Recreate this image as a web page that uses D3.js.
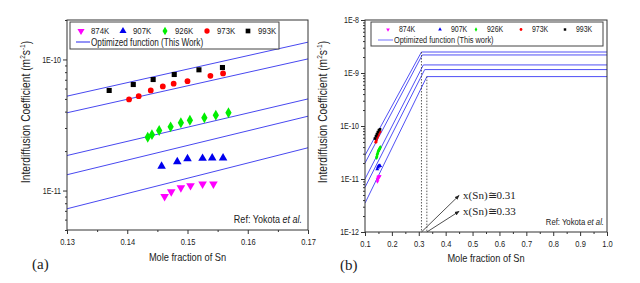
<!DOCTYPE html>
<html>
<head>
<meta charset="utf-8">
<script src="https://cdn.jsdelivr.net/npm/d3@7"></script>
<style>
  body { margin: 0; background: #fff; }
  svg { display: block; }
  text { font-family: 'Liberation Sans', Arial, sans-serif; fill: #222; }
  .serif { font-family: 'Liberation Serif', 'Times New Roman', serif; }
</style>
</head>
<body>
<svg id="fig" width="640" height="283"></svg>
<script>
// measured data, Yokota et al.
var series = ["874K", "907K", "926K", "973K", "993K"];

var x874 = [0.1462, 0.1473, 0.1489, 0.1505, 0.1525, 0.1543];
var d874 = [9.0e-12, 9.8e-12, 1.05e-11, 1.09e-11, 1.12e-11, 1.12e-11];
var x907 = [0.1457, 0.1483, 0.1500, 0.1525, 0.1541, 0.1559];
var d907 = [1.53e-11, 1.66e-11, 1.75e-11, 1.76e-11, 1.77e-11, 1.77e-11];
var x926 = [0.1434, 0.1441, 0.1453, 0.1472, 0.1489, 0.1504, 0.1528, 0.1547, 0.1568];
var d926 = [2.55e-11, 2.67e-11, 2.87e-11, 3.06e-11, 3.29e-11, 3.44e-11, 3.59e-11, 3.76e-11, 3.92e-11];
var x973 = [0.1403, 0.1419, 0.1439, 0.1459, 0.1477, 0.1500, 0.1538, 0.1559];
var d973 = [4.95e-11, 5.25e-11, 5.8e-11, 6.22e-11, 6.53e-11, 6.83e-11, 7.51e-11, 7.82e-11];
var x993 = [0.1370, 0.1410, 0.1443, 0.1478, 0.1519, 0.1558];
var d993 = [5.8e-11, 6.44e-11, 7.03e-11, 7.68e-11, 8.34e-11, 8.68e-11];

// optimized function, panel (a): value at x=0.13 and x=0.17
var fitAx = [0.13, 0.17];
var fitA = [[5.25e-11, 1.355e-10], [3.92e-11, 1.01e-10], [1.85e-11, 5.0e-11], [1.32e-11, 3.69e-11], [7.26e-12, 2.12e-11]];

// panel (b): start at x=0.1, rise to kink, then flat to x=1.0
var startB = [2.8e-11, 2.0e-11, 1.0e-11, 6.95e-12, 3.5e-12];
var kinkX = [0.31, 0.313, 0.317, 0.322, 0.33];
var plateauB = [2.49e-9, 2.19e-9, 1.42e-9, 1.16e-9, 8.55e-10];

var xTicksA = [0.13, 0.14, 0.15, 0.16, 0.17];
var xTicksB = [0.1, 0.2, 0.3, 0.4, 0.5, 0.6, 0.7, 0.8, 0.9, 1.0];

var xs = [x874, x907, x926, x973, x993];
var ds = [d874, d907, d926, d973, d993];
var colors = ["#ff00ff", "#0000ee", "#00ee00", "#ff0000", "#000000"];
var shapes = [d3.symbolTriangle, d3.symbolTriangle, d3.symbolDiamond, d3.symbolCircle, d3.symbolSquare];
var rot = [180, 0, 0, 0, 0];

var svg = d3.select("#fig");
svg.append("rect").attr("width", 640).attr("height", 283).attr("fill", "#fff");

var defs = svg.append("defs");
defs.append("marker").attr("id", "arr")
  .attr("viewBox", "0 0 10 10").attr("refX", 9).attr("refY", 5)
  .attr("markerWidth", 6).attr("markerHeight", 6).attr("orient", "auto")
  .append("path").attr("d", "M0,1L10,5L0,9z").attr("fill", "#222");

// no narrow font installed: squeeze sans text horizontally
function squeeze(sel) {
  sel.each(function () {
    var t = d3.select(this);
    var x = +t.attr("x") || 0, y = +t.attr("y") || 0;
    var tr = t.attr("transform") || "";
    t.attr("x", 0).attr("y", 0).attr("transform", tr + " translate(" + x + "," + y + ") scale(0.82,1)");
  });
}

function logTicks(lo, hi) {
  var maj = [], min = [];
  for (var e = Math.floor(Math.log10(lo)); e <= Math.ceil(Math.log10(hi)); e++) {
    for (var m = 1; m < 10; m++) {
      var v = m * Math.pow(10, e);
      if (v < lo * 0.999 || v > hi * 1.001) continue;
      if (m == 1) maj.push(v); else min.push(v);
    }
  }
  return { maj: maj, min: min };
}

function panel(p) {
  var g = svg.append("g");
  var x = d3.scaleLinear().domain(p.xdom).range([p.l, p.r]);
  var y = d3.scaleLog().domain(p.ydom).range([p.b, p.t]);
  var lt = logTicks(p.ydom[0], p.ydom[1]);

  var minX = [];
  for (var i = 0; i < p.xticks.length - 1; i++) minX.push((p.xticks[i] + p.xticks[i + 1]) / 2);

  var axB = g.append("g").attr("transform", "translate(0," + p.b + ")")
    .call(d3.axisBottom(x).tickValues(p.xticks).tickSize(4).tickPadding(4).tickFormat(p.xfmt));
  axB.selectAll("text").attr("font-size", 9.2);
  g.append("g").attr("transform", "translate(0," + p.b + ")")
    .call(d3.axisBottom(x).tickValues(minX).tickSize(2).tickFormat(""));
  var axL = g.append("g").attr("transform", "translate(" + p.l + ",0)")
    .call(d3.axisLeft(y).tickValues(lt.maj).tickSize(4).tickPadding(2)
      .tickFormat(function (d) { return "1E" + Math.round(Math.log10(d)); }));
  axL.selectAll("text").attr("font-size", 8.6);
  g.append("g").attr("transform", "translate(" + p.l + ",0)")
    .call(d3.axisLeft(y).tickValues(lt.min).tickSize(2).tickFormat(""));
  g.selectAll(".domain").remove();
  g.selectAll(".tick line").attr("stroke", "#333");
  g.selectAll(".tick text").attr("fill", "#222")
    .style("font-family", "'Liberation Sans',Arial,sans-serif");
  squeeze(g.selectAll(".tick text"));

  // clip for the lines
  var cid = "clip" + p.name;
  defs.append("clipPath").attr("id", cid).append("rect")
    .attr("x", p.l).attr("y", p.t).attr("width", p.r - p.l).attr("height", p.b - p.t);
  var plot = g.append("g").attr("clip-path", "url(#" + cid + ")");

  var line = d3.line().x(function (d) { return x(d[0]); }).y(function (d) { return y(d[1]); });
  plot.selectAll("path.fit").data(p.fits).enter().append("path")
    .attr("class", "fit").attr("d", line)
    .attr("fill", "none").attr("stroke", p.lineColor).attr("stroke-width", 1);

  if (p.extra) p.extra(g, x, y);

  // data points
  series.forEach(function (s, k) {
    var pts = xs[k].map(function (v, i) { return [v, ds[k][i]]; });
    g.append("g").selectAll("path").data(pts).enter().append("path")
      .attr("d", d3.symbol().type(shapes[k]).size(p.symSize[k]))
      .attr("transform", function (d) { return "translate(" + x(d[0]) + "," + y(d[1]) + ") rotate(" + rot[k] + ")"; })
      .attr("fill", colors[k]);
  });

  // frame
  g.append("rect").attr("x", p.l).attr("y", p.t).attr("width", p.r - p.l).attr("height", p.b - p.t)
    .attr("fill", "none").attr("stroke", "#333").attr("stroke-width", 1);

  // legend
  var lg = g.append("g");
  lg.append("rect").attr("x", p.leg.x).attr("y", p.leg.y).attr("width", p.leg.w).attr("height", p.leg.h)
    .attr("fill", "#fff").attr("stroke", "#444").attr("stroke-width", 1);
  series.forEach(function (s, k) {
    lg.append("path")
      .attr("d", d3.symbol().type(shapes[k]).size(p.leg.sym))
      .attr("transform", "translate(" + p.leg.sx[k] + "," + p.leg.r1 + ") rotate(" + rot[k] + ")")
      .attr("fill", colors[k]);
    lg.append("text").attr("class", "sq").attr("x", p.leg.sx[k] + p.leg.gap).attr("y", p.leg.r1).attr("dy", "0.35em")
      .attr("font-size", p.leg.fs1).text(s);
  });
  lg.append("line").attr("x1", p.leg.lx[0]).attr("x2", p.leg.lx[1]).attr("y1", p.leg.r2).attr("y2", p.leg.r2)
    .attr("stroke", p.leg.lineColor).attr("stroke-width", 1.2);
  lg.append("text").attr("class", "sq").attr("x", p.leg.lx[1] + 1).attr("y", p.leg.r2).attr("dy", "0.35em")
    .attr("font-size", p.leg.fs2).text(p.leg.label);

  // axis titles
  g.append("text").attr("class", "sq").attr("x", (p.l + p.r) / 2).attr("y", p.xtY).attr("text-anchor", "middle")
    .attr("font-size", 11.3).text("Mole fraction of Sn");
  var yt = g.append("text").attr("transform", "translate(" + p.ytX + "," + p.ytY + ") rotate(-90) scale(0.82,1)")
    .attr("text-anchor", "middle").attr("font-size", 12.5);
  yt.append("tspan").text("Interdiffusion  Coefficient  (m");
  yt.append("tspan").attr("font-size", 8).attr("dy", -5).text("2");
  yt.append("tspan").attr("dy", 5).text("s");
  yt.append("tspan").attr("font-size", 8).attr("dy", -5).text("-1");
  yt.append("tspan").attr("dy", 5).text(")");

  // reference note
  var rf = g.append("text").attr("class", "sq").attr("x", p.ref.x).attr("y", p.ref.y).attr("text-anchor", "end")
    .attr("font-size", p.ref.fs);
  rf.append("tspan").text("Ref: Yokota ");
  rf.append("tspan").attr("font-style", "italic").text("et al.");

  squeeze(g.selectAll("text.sq"));

  g.append("text").attr("class", "serif").attr("x", p.tag.x).attr("y", p.tag.y)
    .attr("font-size", 15).text(p.tag.t);
}

panel({
  name: "a", l: 67, r: 308, t: 20, b: 230,
  xdom: [0.13, 0.17], ydom: [5e-12, 2e-10], xticks: xTicksA,
  xfmt: d3.format(".2f"),
  fits: fitA.map(function (f) { return [[fitAx[0], f[0]], [fitAx[1], f[1]]]; }),
  lineColor: "#4848f0",
  symSize: [32, 32, 34, 26, 26],
  leg: { x: 70, y: 22, w: 209, h: 27, r1: 31, r2: 42, sx: [81, 123, 165, 207, 248], gap: 10, fs1: 9.5, fs2: 10,
         sym: 22, lx: [76, 90], lineColor: "#4848f0", label: "Optimized function (This Work)" },
  xtY: 261, ytX: 30, ytY: 112,
  ref: { x: 302, y: 223, fs: 11 },
  tag: { x: 32, y: 269, t: "(a)" }
});

panel({
  name: "b", l: 365, r: 607, t: 20, b: 232,
  xdom: [0.1, 1.0], ydom: [1e-12, 1e-8], xticks: xTicksB,
  xfmt: d3.format(".1f"),
  fits: startB.map(function (s, i) { return [[0.1, s], [kinkX[i], plateauB[i]], [1.0, plateauB[i]]]; }),
  lineColor: "#5050f5",
  symSize: [7, 7, 8, 7, 7],
  leg: { x: 371, y: 22, w: 232, h: 24, r1: 29.5, r2: 40, sx: [388, 440, 476, 521, 565], gap: 11, fs1: 8.5, fs2: 9,
         sym: 6, lx: [378, 393], lineColor: "#8888ff", label: "Optimized function (This work)" },
  xtY: 262, ytX: 327, ytY: 112,
  ref: { x: 604, y: 225, fs: 9.4 },
  tag: { x: 340, y: 270, t: "(b)" },
  extra: function (g, x, y) {
    // dotted guide lines at the kinks
    [[kinkX[0], plateauB[0]], [kinkX[4], plateauB[4]]].forEach(function (d) {
      g.append("line").attr("x1", x(d[0])).attr("x2", x(d[0])).attr("y1", y(d[1])).attr("y2", y(1e-12))
        .attr("stroke", "#333").attr("stroke-width", 0.8).attr("stroke-dasharray", "1.5,1.5");
    });
    var notes = [[0.31, 0.45, 4.9e-12, "x(Sn)\u22450.31"], [0.33, 0.45, 2.45e-12, "x(Sn)\u22450.33"]];
    notes.forEach(function (n) {
      g.append("line").attr("x1", x(n[0])).attr("y1", y(1e-12)).attr("x2", x(n[1])).attr("y2", y(n[2]))
        .attr("stroke", "#222").attr("stroke-width", 0.8).attr("marker-end", "url(#arr)");
      g.append("text").attr("class", "serif").attr("x", x(n[1]) + 4).attr("y", y(n[2])).attr("dy", "0.35em")
        .attr("font-size", 11).text(n[3]);
    });
  }
});
</script>
</body>
</html>
